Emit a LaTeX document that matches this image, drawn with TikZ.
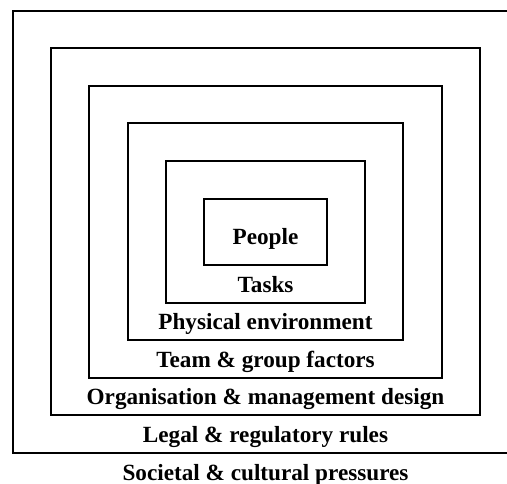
\documentclass[tikz,border=0pt]{standalone}
\usepackage{fontspec}
\setmainfont{Liberation Serif}
\usetikzlibrary{calc}

\tikzset{
    layer/.style={draw=black, line width=1pt},
    lbl/.style={anchor=base, inner sep=0pt,
        font=\bfseries\fontsize{11.6}{14}\selectfont}
}

\begin{document}
\begin{tikzpicture}[x=0.5pt, y=-0.5pt]
    \newcommand\midx{265.5}
    \newcommand\halfw{252.5}
    \newcommand\topy{10.5}
    \newcommand\boty{453}
    \newcommand\gapx{38.2}
    \newcommand\gapy{37.6}
    \newcommand\drop{27}

    \useasboundingbox (0, 0) rectangle (507, 483);
    \clip (0, 0) rectangle (507, 483);

    % one box per layer, its name just below the bottom edge
    \foreach \lbl [count=\i from 0] in {Societal \& cultural pressures,
            Legal \& regulatory rules, Organisation \& management design,
            Team \& group factors, Physical environment, Tasks} {
        \draw[layer]
            (\midx - \halfw + \i * \gapx, \topy + \i * \gapy) coordinate (box\i-nw)
            rectangle
            (\midx + \halfw - \i * \gapx, \boty - \i * \gapy) coordinate (box\i-se);
        \node[lbl] (lbl\i) at (\midx, \boty - \i * \gapy + \drop) {\lbl};
    }

    \node[lbl] (people) at (\midx, 244) {People};
\end{tikzpicture}
\end{document}
